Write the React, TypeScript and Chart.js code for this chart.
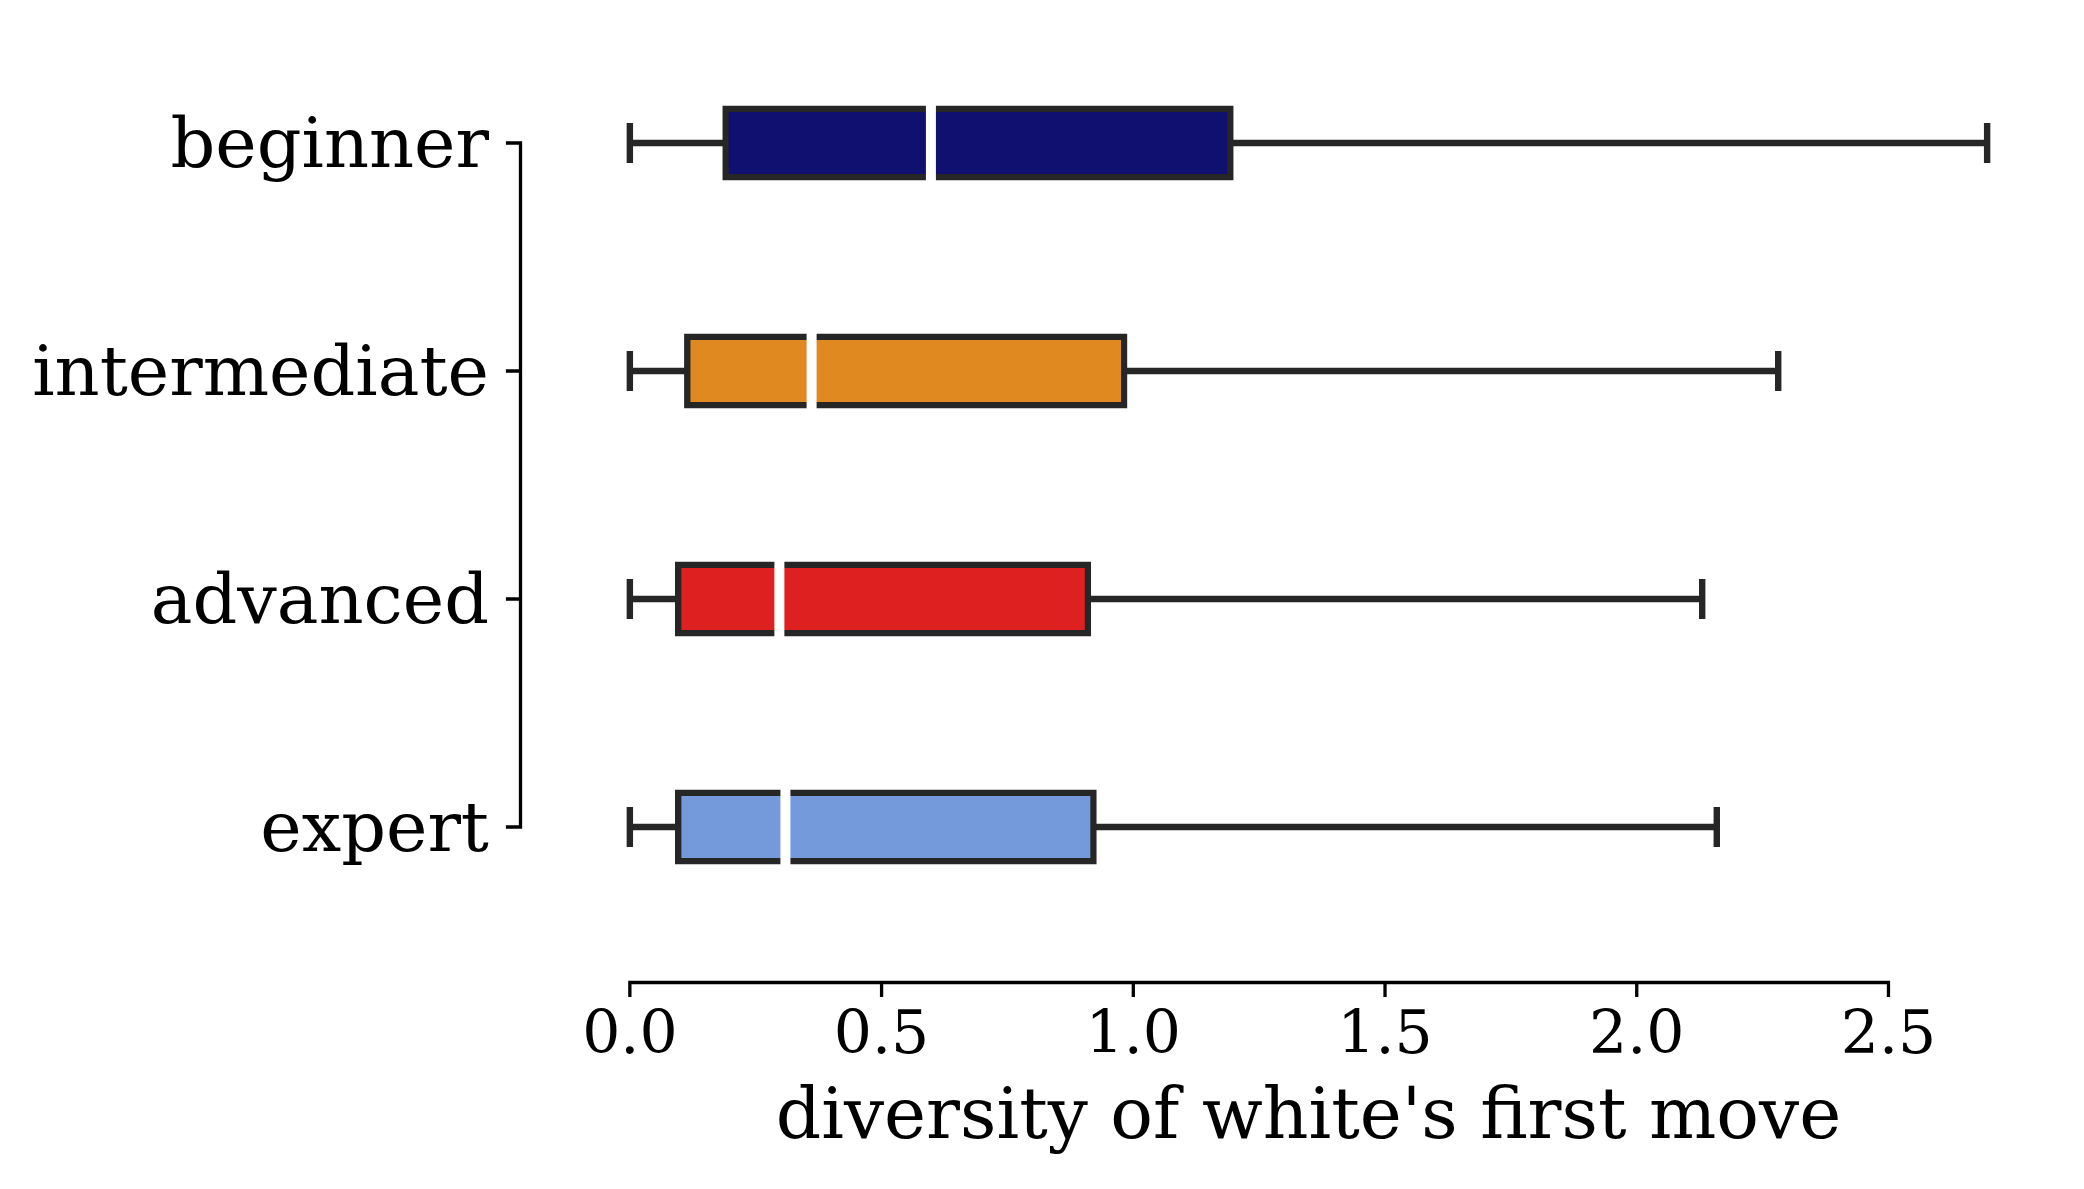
import React, { useEffect, useRef } from 'react';
import { Chart, registerables } from 'chart.js';

Chart.register(...registerables);

// ---- data ----
const categories = ['beginner', 'intermediate', 'advanced', 'expert'];
const whiskerLow = [0, 0, 0, 0];
const quartile1 = [0.19, 0.114, 0.096, 0.096];
const medians = [0.598, 0.361, 0.297, 0.309];
const quartile3 = [1.193, 0.982, 0.91, 0.921];
const whiskerHigh = [2.696, 2.281, 2.13, 2.159];
const boxColors = ['#101070', '#df8920', '#df2020', '#759adc'];
const xTickValues = [0, 0.5, 1, 1.5, 2, 2.5];
const xTitle = "diversity of white's first move";

// ---- style ----
const EDGE = '#262626';
const SPINE = '#000000';
const TEXT = '#000000';
const FONT = "'DejaVu Serif', serif";
const BOX_HALF = 0.15;
const CAP_HALF = 0.0875;
const SPINE_OFFSET = 41.5;
const TICK_LEN = 14.6;
const LINE_W = 6.4;

const dataMin = Math.min(...whiskerLow);
const dataMax = Math.max(...whiskerHigh);
const margin = 0.05 * (dataMax - dataMin);

const GAP = { x: null, y: null };

const spinesPlugin = {
  id: 'offsetSpines',
  afterDatasetsDraw(chart: any) {
    const { ctx, chartArea, scales } = chart;
    const x = scales.x;
    const y = scales.y;
    ctx.save();
    ctx.strokeStyle = SPINE;
    ctx.lineWidth = 3.3;
    ctx.lineCap = 'butt';
    // y spine (trimmed to first/last tick)
    const sx = chartArea.left - SPINE_OFFSET;
    const yFirst = y.getPixelForValue(0);
    const yLast = y.getPixelForValue(categories.length - 1);
    ctx.beginPath();
    ctx.moveTo(sx, yFirst - 1.65);
    ctx.lineTo(sx, yLast + 1.65);
    y.ticks.forEach((t: any) => {
      const py = y.getPixelForValue(t.value);
      ctx.moveTo(sx - TICK_LEN, py);
      ctx.lineTo(sx, py);
    });
    ctx.stroke();
    // x spine (trimmed)
    const sy = chartArea.bottom + SPINE_OFFSET;
    const xFirst = x.getPixelForValue(xTickValues[0]);
    const xLast = x.getPixelForValue(xTickValues[xTickValues.length - 1]);
    ctx.beginPath();
    ctx.moveTo(xFirst - 1.65, sy);
    ctx.lineTo(xLast + 1.65, sy);
    x.ticks.forEach((t: any) => {
      const px = x.getPixelForValue(t.value);
      ctx.moveTo(px, sy);
      ctx.lineTo(px, sy + TICK_LEN);
    });
    ctx.stroke();
    ctx.restore();
  },
};

export default function App() {
  const ref = useRef<HTMLCanvasElement | null>(null);

  useEffect(() => {
    if (!ref.current) return;

    const whiskerSets = categories.map((_, i) => ({
      type: 'line' as const,
      data: [
        { x: whiskerLow[i], y: i - CAP_HALF },
        { x: whiskerLow[i], y: i + CAP_HALF },
        GAP,
        { x: whiskerLow[i], y: i },
        { x: quartile1[i], y: i },
        GAP,
        { x: quartile3[i], y: i },
        { x: whiskerHigh[i], y: i },
        GAP,
        { x: whiskerHigh[i], y: i - CAP_HALF },
        { x: whiskerHigh[i], y: i + CAP_HALF },
      ],
      borderColor: EDGE,
      borderWidth: LINE_W,
      pointRadius: 0,
      pointHoverRadius: 0,
      fill: false,
      spanGaps: false,
      tension: 0,
      order: 3,
    }));

    const medianData: any[] = [];
    categories.forEach((_, i) => {
      medianData.push({ x: medians[i], y: i - BOX_HALF });
      medianData.push({ x: medians[i], y: i + BOX_HALF });
      medianData.push(GAP);
    });

    const chart = new Chart(ref.current, {
      type: 'bar',
      data: {
        datasets: [
          ...whiskerSets,
          {
            type: 'bar' as const,
            indexAxis: 'y' as const,
            data: categories.map((_, i) => ({ x: [quartile1[i], quartile3[i]], y: i })) as any,
            backgroundColor: boxColors,
            borderColor: EDGE,
            borderWidth: LINE_W,
            borderSkipped: false,
            inflateAmount: LINE_W / 2,
            categoryPercentage: BOX_HALF * 2,
            barPercentage: 1,
            order: 2,
          },
          {
            type: 'line' as const,
            data: medianData,
            borderColor: '#ffffff',
            borderWidth: 10,
            borderCapStyle: 'square',
            pointRadius: 0,
            pointHoverRadius: 0,
            fill: false,
            spanGaps: false,
            order: 1,
          },
        ] as any,
      },
      options: {
        responsive: false,
        maintainAspectRatio: false,
        animation: false,
        devicePixelRatio: 1,
        layout: { padding: { top: 29, right: 29, left: 0, bottom: 0 } },
        plugins: {
          legend: { display: false },
          tooltip: { enabled: false },
        },
        events: [],
        scales: {
          x: {
            type: 'linear',
            position: 'bottom',
            min: dataMin - margin,
            max: dataMax + margin,
            offset: false,
            grid: { display: false, drawTicks: false, offset: false },
            border: { display: false },
            afterBuildTicks: (scale: any) => {
              scale.ticks = xTickValues.map((v) => ({ value: v }));
            },
            afterFit: (scale: any) => {
              scale.height = 248;
              scale.paddingLeft = 0;
              scale.paddingRight = 0;
            },
            ticks: {
              autoSkip: false,
              maxRotation: 0,
              minRotation: 0,
              padding: 60,
              color: TEXT,
              font: { family: FONT, size: 60 },
              callback: (v: any) => Number(v).toFixed(1),
            },
            title: {
              display: true,
              text: xTitle,
              color: TEXT,
              font: { family: FONT, size: 71 },
              padding: { top: 0, bottom: 27 },
            },
          },
          y: {
            type: 'linear',
            position: 'left',
            min: -0.5,
            max: categories.length - 0.5,
            reverse: true,
            offset: false,
            grid: { display: false, drawTicks: false, offset: false },
            border: { display: false },
            afterBuildTicks: (scale: any) => {
              scale.ticks = categories.map((_, i) => ({ value: i }));
            },
            afterFit: (scale: any) => {
              scale.width = 562;
              scale.paddingTop = 0;
              scale.paddingBottom = 0;
            },
            ticks: {
              autoSkip: false,
              padding: 73,
              labelOffset: 6,
              color: TEXT,
              font: { family: FONT, size: 70 },
              callback: (v: any) => categories[Number(v)] ?? '',
            },
          },
        },
      } as any,
      plugins: [spinesPlugin],
    });

    return () => chart.destroy();
  }, []);

  return (
    <div style={{ position: 'absolute', left: 0, top: 0, width: 2084, height: 1189, background: '#ffffff' }}>
      <canvas ref={ref} width={2084} height={1189} style={{ display: 'block' }} />
    </div>
  );
}
